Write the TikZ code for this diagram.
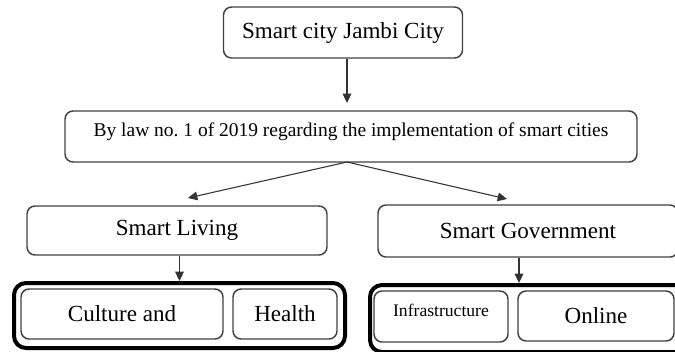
\documentclass[tikz,border=0pt]{standalone}
\usepackage{fontspec}
\setmainfont{Liberation Serif}
\usetikzlibrary{arrows.meta}
\frenchspacing

\begin{document}
\begin{tikzpicture}[x=0.75pt,y=-0.75pt,
  box/.style={draw=black!75,line width=1.1pt,rounded corners=6pt,inner sep=0pt,align=center},
  group/.style={draw=black,line width=3pt,rounded corners=9pt,inner sep=0pt},
  link/.style={draw=black!80,line width=0.8pt,-{Triangle[length=7pt,width=6.5pt]}},
  big/.style={font=\fontsize{17.3}{20}\selectfont}]
 \useasboundingbox (0,0) rectangle (675,351);
 \node[box,big,minimum width=179.25pt,minimum height=38.25pt] (city) at (343,32.5) {Smart city Jambi City};
 \node[box,font=\fontsize{14.6}{17}\selectfont,minimum width=429pt,minimum height=38.25pt,text height=5pt,text depth=5pt] (law) at (351,136.5) {By law no. 1 of 2019 regarding the implementation of smart cities};
 \node[box,big,minimum width=225pt,minimum height=36.75pt] (living) at (177,230.5) {Smart Living};
 \node[box,big,minimum width=225pt,minimum height=39pt] (gov) at (528,231) {Smart Government};
 \node[group,minimum width=248.25pt,minimum height=48.75pt] (grpliving) at (179.5,315.5) {};
 \node[group,minimum width=240pt,minimum height=50.25pt] (grpgov) at (530,318.5) {};
 \node[box,big,minimum width=151.5pt,minimum height=37.5pt] (culture) at (122,314) {Culture and};
 \node[box,big,minimum width=78pt,minimum height=37.5pt] (health) at (285,314) {Health};
 \node[box,font=\fontsize{13.2}{15}\selectfont,minimum width=100.5pt,minimum height=38.25pt,text height=4pt,text depth=4pt] (infra) at (441,316.5) {Infrastructure};
 \node[box,big,minimum width=117pt,minimum height=37.5pt] (online) at (596,316) {Online};
 \coordinate (lawin) at (347,103);
 \coordinate (split) at (347,162);
 \coordinate (livingin) at (188,198);
 \coordinate (govin) at (507,199);
 \draw[link] ([xshift=3pt]city.south) -- (lawin);
 \draw[link] (split) -- (livingin);
 \draw[link] (split) -- (govin);
 \draw[link] (living.south -| grpliving.north) -- (grpliving.north);
 \draw[link] ([xshift=-6.75pt]gov.south) -- ([xshift=-6.75pt]gov.south |- grpgov.north);
\end{tikzpicture}
\end{document}
